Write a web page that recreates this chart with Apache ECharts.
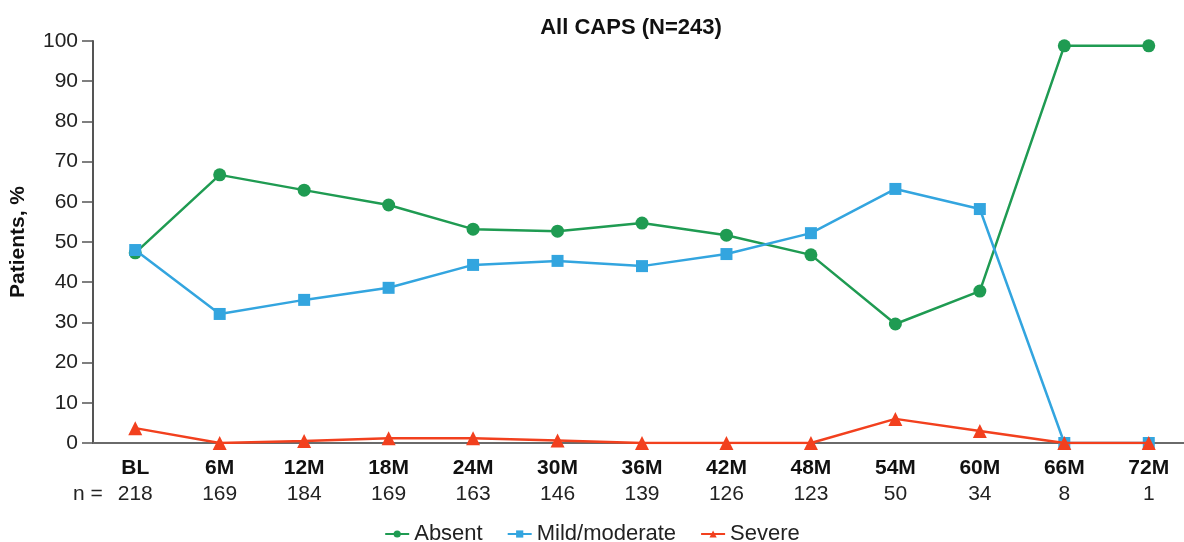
<!DOCTYPE html>
<html>
<head>
<meta charset="utf-8">
<script src="https://cdn.jsdelivr.net/npm/echarts@6/dist/echarts.min.js"></script>
<style>
	html, body { margin: 0; padding: 0; background: #fff; }
	#main { width: 1184px; height: 542px; }
</style>
</head>
<body>
<div id="main"></div>
<script>
// visits and number of patients at each visit
var visits = ['BL', '6M', '12M', '18M', '24M', '30M', '36M', '42M', '48M', '54M', '60M', '66M', '72M'];
var nPatients = [218, 169, 184, 169, 163, 146, 139, 126, 123, 50, 34, 8, 1];
// % patients
var absent = [47.3, 66.7, 62.9, 59.2, 53.2, 52.7, 54.7, 51.7, 46.8, 29.6, 37.8, 98.8, 98.8];
var mildModerate = [48.0, 32.1, 35.6, 38.6, 44.3, 45.3, 44.0, 47.0, 52.2, 63.2, 58.2, 0, 0];
var severe = [3.7, 0, 0.5, 1.2, 1.2, 0.6, 0, 0, 0, 6.0, 3.0, 0, 0];
var yTicks = [0, 10, 20, 30, 40, 50, 60, 70, 80, 90, 100];

var myChart = echarts.init(document.getElementById('main'));
var font = 'Liberation Sans, Arial, sans-serif';

var option = {
	backgroundColor: '#fff',
	animation: false,
	textStyle: { fontFamily: font },
	title: {
		text: 'All CAPS (N=243)',
		left: 626,
		top: 12,
		textAlign: 'center',
		textStyle: { fontSize: 22, fontWeight: 'bold', color: '#111', fontFamily: font }
	},
	legend: {
		top: 518,
		left: 'center',
		itemWidth: 24,
		itemHeight: 9,
		itemGap: 24,
		textStyle: { fontSize: 22, color: '#222', fontFamily: font },
		data: ['Absent', 'Mild/moderate', 'Severe']
	},
	grid: { left: 93, top: 41, width: 1098, height: 402, containLabel: false, outerBoundsMode: 'none' },
	xAxis: {
		type: 'category',
		data: visits,
		boundaryGap: true,
		axisLine: { lineStyle: { color: '#6a6a6a', width: 2 } },
		axisTick: { show: false },
		axisLabel: {
			interval: 0,
			margin: 12,
			formatter: function (v, i) {
				return '{b|' + v + '}\n{n|' + nPatients[i] + '}';
			},
			rich: {
				b: { fontSize: 21, fontWeight: 'bold', color: '#111', fontFamily: font, lineHeight: 26 },
				n: { fontSize: 21, color: '#222', fontFamily: font, lineHeight: 26 }
			}
		}
	},
	yAxis: {
		type: 'value',
		min: yTicks[0],
		max: yTicks[yTicks.length - 1],
		interval: 10,
		name: 'Patients, %',
		nameLocation: 'middle',
		nameGap: 64,
		nameTextStyle: { fontSize: 21, fontWeight: 'bold', color: '#111', fontFamily: font },
		axisLine: { show: true, lineStyle: { color: '#555', width: 2 } },
		axisTick: { show: true, length: 11, lineStyle: { color: '#555', width: 1.5 } },
		axisLabel: { fontSize: 21, color: '#222', margin: 15, fontFamily: font },
		splitLine: { show: false }
	},
	graphic: [{
		type: 'text',
		left: 73,
		top: 484,
		style: { text: 'n =', fontSize: 21, fill: '#222', fontFamily: font }
	}],
	series: [{
		name: 'Absent',
		type: 'line',
		data: absent,
		color: '#1f9b52',
		symbol: 'circle',
		symbolSize: 13,
		lineStyle: { width: 2.5 },
		z: 3
	}, {
		name: 'Mild/moderate',
		type: 'line',
		data: mildModerate,
		color: '#33a5df',
		symbol: 'rect',
		symbolSize: 12,
		lineStyle: { width: 2.5 },
		z: 4
	}, {
		name: 'Severe',
		type: 'line',
		data: severe,
		color: '#f2401e',
		symbol: 'triangle',
		symbolSize: 14,
		lineStyle: { width: 2.5 },
		z: 5
	}]
};
myChart.setOption(option);
</script>
</body>
</html>
